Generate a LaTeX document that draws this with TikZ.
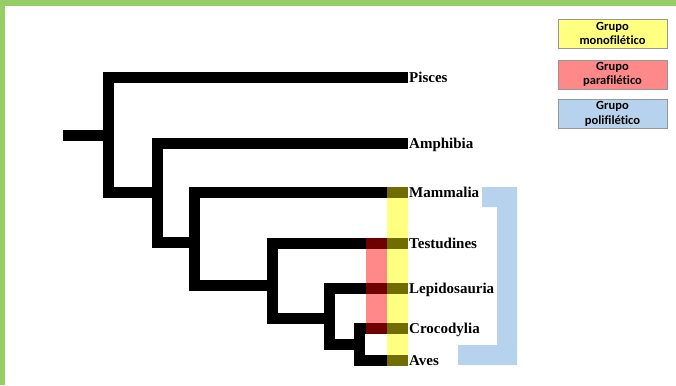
\documentclass[tikz,border=0pt]{standalone}
\usepackage{fontspec}
\setmainfont{Liberation Serif}
\newfontfamily\legendfont[Ligatures=NoCommon]{Carlito}
\definecolor{borderGreen}{RGB}{150,205,100}
\definecolor{monoYellow}{RGB}{255,255,128}
\definecolor{paraRed}{RGB}{255,136,136}
\definecolor{polyBlue}{RGB}{182,210,236}
\definecolor{oliveMix}{RGB}{112,108,0}
\definecolor{redMix}{RGB}{112,0,0}
\definecolor{boxLine}{RGB}{150,150,150}
\tikzset{
  branch/.style={line width=11pt, black, line join=miter, line cap=butt},
  taxon/.style={anchor=base west, inner sep=0pt, font=\fontsize{15}{17}\selectfont\bfseries},
  legendbox/.style={draw=boxLine, line width=0.7pt, minimum width=109pt, minimum height=29pt,
    inner sep=0pt, align=center, font=\legendfont\fontsize{12.5}{14.5}\selectfont\bfseries},
}
\begin{document}
\begin{tikzpicture}[x=1pt,y=-1pt]
\useasboundingbox (0,0) rectangle (676,385);
% frame
\fill[borderGreen] (0,0) rectangle (676,6);
\fill[borderGreen] (0,0) rectangle (5,385);
% group bars
\fill[monoYellow] (387,187) rectangle (408,365);
\fill[paraRed] (366,238) rectangle (387,333);
% coordinates
\coordinate (root) at (63,135);
\coordinate (n1) at (108,135);
\coordinate (n2) at (157.5,192.5);
\coordinate (n3) at (194,242);
\coordinate (n4) at (272.5,285.5);
\coordinate (n5) at (329.5,318);
\coordinate (n6) at (359.5,344);
\coordinate (pisc) at (408,77.5);
\coordinate (amph) at (408,143.5);
\coordinate (mamm) at (408,192.5);
\coordinate (test) at (408,243);
\coordinate (lepi) at (408,288);
\coordinate (croc) at (408,328);
\coordinate (aves) at (408,360);
% tree
\draw[branch] (root) -- (n1);
\draw[branch] (n1) |- (pisc);
\draw[branch] (n1) |- (n2);
\draw[branch] (n2) |- (amph);
\draw[branch] (n2) |- (n3);
\draw[branch] (n3) |- (mamm);
\draw[branch] (n3) |- (n4);
\draw[branch] (n4) |- (test);
\draw[branch] (n4) |- (n5);
\draw[branch] (n5) |- (lepi);
\draw[branch] (n5) |- (n6);
\draw[branch] (n6) |- (croc);
\draw[branch] (n6) |- (aves);
% overlaps
\foreach \c in {mamm,test,lepi,croc,aves}{
  \fill[oliveMix] ([shift={(-21,-5.5)}]\c) rectangle ([shift={(0,5.5)}]\c);
}
\foreach \c in {test,lepi,croc}{
  \fill[redMix] ([shift={(-42,-5.5)}]\c) rectangle ([shift={(-21,5.5)}]\c);
}
% polyphyletic bracket
\fill[polyBlue] (482,187) -- (517,187) -- (517,365) -- (458,365) -- (458,345)
  -- (497,345) -- (497,207) -- (482,207) -- cycle;
% labels
\node[taxon] (Lpisc) at ([shift={(1,5)}]pisc) {Pisces};
\node[taxon] (Lamph) at ([shift={(1,5)}]amph) {Amphibia};
\node[taxon] (Lmamm) at ([shift={(1,5)}]mamm) {Mammalia};
\node[taxon] (Ltest) at ([shift={(1,5)}]test) {Testudines};
\node[taxon] (Llepi) at ([shift={(1,5)}]lepi) {Lepidosauria};
\node[taxon] (Lcroc) at ([shift={(1,5)}]croc) {Crocodylia};
\node[taxon] (Laves) at ([shift={(1,5)}]aves) {Aves};
% legend
\node[legendbox, fill=monoYellow] (legMono) at (612.5,33.5) {Grupo\\monofilético};
\node[legendbox, fill=paraRed] (legPara) at (612.5,74.5) {Grupo\\parafilético};
\node[legendbox, fill=polyBlue] (legPoli) at (612.5,114) {Grupo\\polifilético};
\end{tikzpicture}
\end{document}
